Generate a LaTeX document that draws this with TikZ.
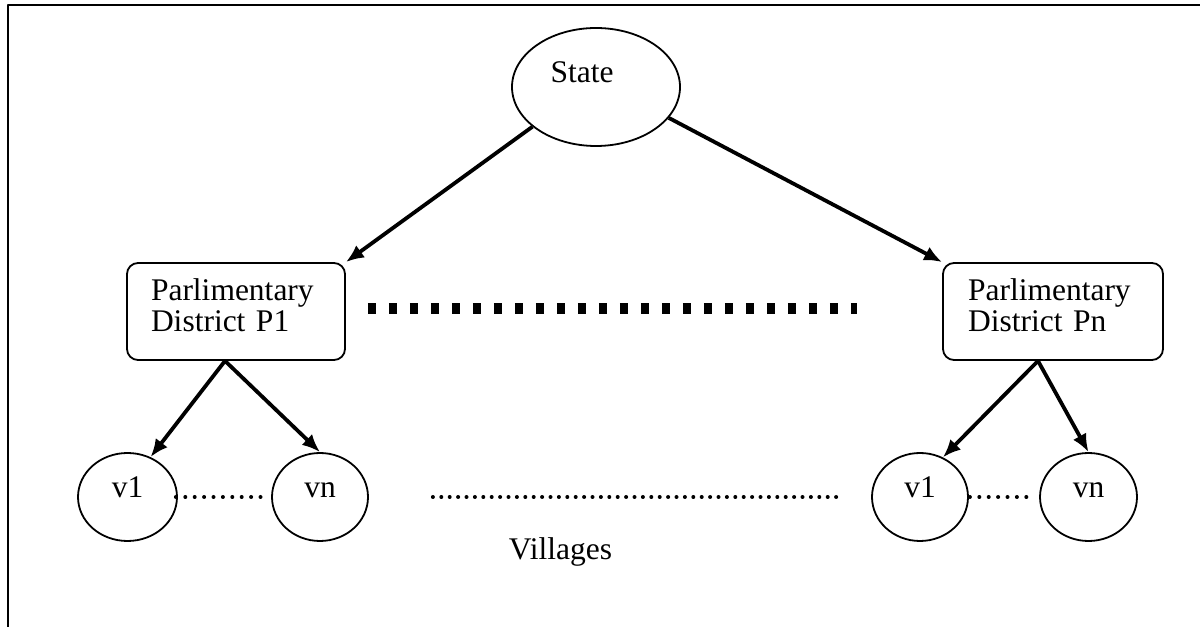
\documentclass[tikz,border=0pt]{standalone}
\usepackage{fontspec}
\setmainfont{Liberation Serif}
\usetikzlibrary{arrows.meta,shapes}

\begin{document}
\begin{tikzpicture}[>={Latex[length=18bp,width=15bp]},line join=bevel,
  font=\fontsize{31.5bp}{31bp}\selectfont,
  vill/.style={draw,ellipse,line width=1.8bp,inner sep=0pt,minimum height=88bp,text height=20bp,text depth=18bp},
  pbox/.style={draw,rounded corners=11bp,line width=1.8bp,minimum height=97bp,inner sep=0pt,text width=170bp,align=left,text depth=43bp},
  link/.style={->,line width=3.8bp},
  dotrow/.style={line width=4bp,line cap=round,dash pattern=on 0bp off #1},
  pdash/.style={line width=11bp,dash pattern=on 8bp off 13bp}]
%%
\useasboundingbox (0bp,0bp) rectangle (1200bp,627bp);
\draw [line width=2.5bp] (8bp,0bp) -- (8bp,622bp) -- (1200bp,622bp);
\node (state) at (596bp,540bp) [draw,ellipse,line width=1.8bp,minimum width=168bp,minimum height=118bp,inner sep=0pt,text height=22bp,text depth=30bp] {State\kern28bp};
  \node (p1) at (236bp,315.5bp) [pbox,minimum width=218bp] {Parlimentary\\District P1};
  \node (pn) at (1053bp,315.5bp) [pbox,minimum width=220bp] {Parlimentary\\District Pn};
  \node (v1a) at (127.5bp,130bp) [vill,minimum width=99bp] {v1};
  \node (vna) at (320bp,130bp) [vill,minimum width=96bp] {vn};
  \node (v1b) at (920bp,130bp) [vill,minimum width=96bp] {v1};
  \node (vnb) at (1088.5bp,130bp) [vill,minimum width=97bp] {vn};
  \node (villages) at (560.5bp,67bp) [anchor=base] {Villages};
  \draw [link] (state.212) -- (p1.north east);
  \draw [link] (state.337) -- (pn.north west);
  \draw [link] ([xshift=-11bp]p1.south) -- (v1a.60);
  \draw [link] ([xshift=-11bp]p1.south) -- (vna.north);
  \draw [link] ([xshift=-15bp]pn.south) -- (v1b.60);
  \draw [link] ([xshift=-15bp]pn.south) -- (vnb.north);
  \draw [pdash,shorten <=22bp,shorten >=85bp] ([yshift=2.5bp]p1.east) -- ([yshift=2.5bp]pn.west);
  \draw [dotrow=9.4bp,shorten <=-2bp,shorten >=6bp] (v1a) -- (vna);
  \draw [dotrow=8.4bp,shorten <=64bp,shorten >=29bp] (vna) -- (v1b);
  \draw [dotrow=9.4bp,shorten <=1bp,shorten >=9bp] (v1b) -- (vnb);
%
\end{tikzpicture}
\end{document}
